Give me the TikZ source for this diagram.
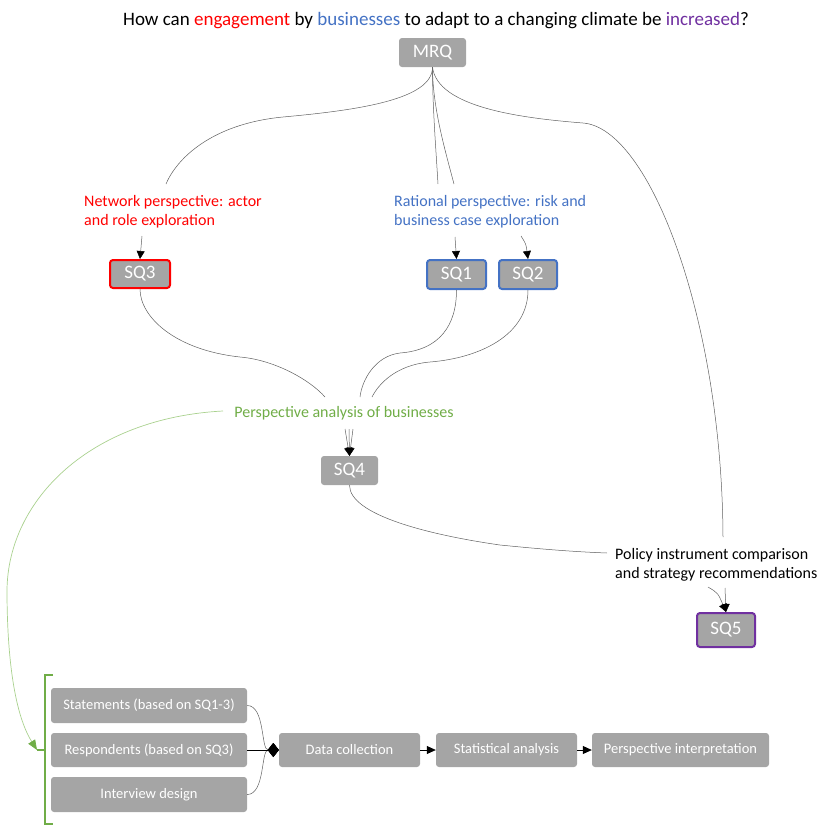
\documentclass[tikz,border=0pt]{standalone}
\usepackage{fontspec}
\setmainfont{Carlito}
\usetikzlibrary{arrows.meta,calc}

\definecolor{boxgray}{HTML}{A5A5A5}
\definecolor{engred}{HTML}{FF0000}
\definecolor{busblue}{HTML}{4472C4}
\definecolor{incpurple}{HTML}{7030A0}
\definecolor{persgreen}{HTML}{70AD47}
\definecolor{lightgreen}{HTML}{A9D18E}
\definecolor{linegray}{HTML}{606060}

\tikzset{
  qbox/.style={rectangle, rounded corners=3pt, fill=boxgray, text=white,
    inner sep=0pt, font=\fontsize{19}{22}\selectfont},
  stepbox/.style={qbox, font=\fontsize{14.5}{17}\selectfont},
  lab/.style={inner sep=0pt, align=left, anchor=north west,
    font=\fontsize{16}{19}\selectfont},
  conn/.style={draw=linegray, line width=0.5pt},
  arr/.style={conn, -{Triangle[length=8pt,width=8pt,black]}},
  mergeline/.style={conn, -{Diamond[length=11pt,width=14pt,black]}},
  flow/.style={draw=black, line width=0.8pt, -{Triangle[length=9pt,width=8pt,black]}},
  brace/.style={draw=persgreen, line width=1.5pt},
}

\begin{document}
\begin{tikzpicture}[x=1pt,y=-1pt]
\useasboundingbox (0,0) rectangle (817,825);

% main research question
\node[anchor=base, font=\fontsize{19}{22}\selectfont] (title) at (436,25)
  {How can \textcolor{engred}{engagement} by \textcolor{busblue}{businesses} to adapt to a changing climate be \textcolor{incpurple}{increased}?};
\node[qbox, minimum width=67pt, minimum height=29pt] (mrq) at (432.5,52.5) {MRQ};

% perspectives
\node[lab, text=engred] (net) at (84,195) {Network perspective: actor\\and role exploration};
\node[lab, text=busblue] (rat) at (394,195) {Rational perspective: risk and\\business case exploration};
\node[lab, text=black] (pol) at (615,548) {Policy instrument comparison\\and strategy recommendations};
\node[inner sep=0pt, anchor=base, text=persgreen, font=\fontsize{16}{19}\selectfont] (pers) at (344,417)
  {Perspective analysis of businesses};

% sub-questions
\node[qbox, draw=engred, line width=2pt, minimum width=60pt, minimum height=28pt] (sq3) at (140,274) {SQ3};
\node[qbox, draw=busblue, line width=2pt, minimum width=59pt, minimum height=29pt] (sq1) at (456.5,274.5) {SQ1};
\node[qbox, draw=busblue, line width=2pt, minimum width=58pt, minimum height=29pt] (sq2) at (528,274.5) {SQ2};
\node[qbox, minimum width=57pt, minimum height=29pt] (sq4) at (349.5,470.5) {SQ4};
\node[qbox, draw=incpurple, line width=2pt, minimum width=58pt, minimum height=34pt] (sq5) at (726,630) {SQ5};

% method steps
\node[stepbox, minimum width=196pt, minimum height=35pt] (stm) at (149,705.5) {Statements (based on SQ1-3)};
\node[stepbox, minimum width=196pt, minimum height=34pt] (resp) at (149,750) {Respondents (based on SQ3)};
\node[stepbox, minimum width=196pt, minimum height=35pt] (intv) at (149,794.5) {Interview design};
\node[stepbox, minimum width=141pt, minimum height=34pt] (dc) at (349.5,750) {Data collection};
\node[stepbox, minimum width=141pt, minimum height=34pt] (sa) at (506.5,750) {Statistical analysis};
\node[stepbox, minimum width=177pt, minimum height=34pt] (pi) at (680.5,750) {Perspective interpretation};

% MRQ to the perspectives
\draw[conn] (mrq.south) .. controls +(0,32) and (360,110) .. (283,117)
  .. controls (210,124) and (176,160) .. ($(net.north west)+(82,-11)$);
\draw[conn] (mrq.south) .. controls +(0,40) and (436,150) .. ($(rat.north west)+(44,-11)$);
\draw[conn] (mrq.south) .. controls +(0,40) and (445,150) .. ($(rat.north west)+(60,-11)$);
\draw[conn] (mrq.south) .. controls +(5,40) and (520,118) .. (583,123)
  .. controls (650,128) and (722,320) .. ($(pol.north west)+(108,-11)$);

% perspectives to sub-questions
\draw[arr] ($(net.north west)+(58,41)$) -- (sq3.north);
\draw[arr] ($(rat.north west)+(61,42)$) -- (sq1.north);
\draw[arr] ($(rat.north west)+(127,41)$) .. controls +(5,8) .. (sq2.north);

% sub-questions to the perspective analysis
\draw[conn] (sq3.south) .. controls +(0,28) and (175,350) .. (240,357)
  .. controls (275,360) and (310,380) .. ($(pers.base)+(-19,-20)$);
\draw[conn] (sq1.south) .. controls +(0,35) and (440,350) .. (400,353)
  .. controls (375,356) and (362,380) .. ($(pers.base)+(16,-20)$);
\draw[conn] (sq2.south) .. controls +(0,45) and (480,358) .. (430,362)
  .. controls (395,365) and (378,385) .. ($(pers.base)+(28,-20)$);
\draw[arr] ($(pers.base)+(1,12)$) -- (sq4.north);
\draw[arr] ($(pers.base)+(9,12)$) -- (sq4.north);
\draw[arr] ($(pers.base)+(5,12)$) -- (sq4.north);

% towards policy recommendations
\draw[conn] (sq4.south) .. controls +(0,30) and (430,535) .. (500,545)
  .. controls (550,550) and (580,552) .. ($(pol.north west)+(-8,5)$);
\draw[arr] ($(pol.north west)+(110,40)$) -- (sq5.north);
\draw[arr] ($(pol.north west)+(93,39)$) .. controls +(10,6) .. (sq5.north);

% method bracket and link from the perspective analysis
\draw[brace] (53,675) -- (45,675) -- (45,824) -- (53,824);
\draw[brace] (45,750) -- (37,750);
\coordinate (brace-tip) at (37,750);
\draw[draw=lightgreen, line width=0.7pt, -{Triangle[length=10pt,width=8pt,persgreen]}]
  ($(pers.base)+(-121,-6)$) .. controls (90,418) and (8,500) .. (7,590)
  .. controls (7,660) and (15,715) .. (brace-tip);

% method flow
\draw[mergeline] (stm.east) .. controls +(18,0) and +(-18,0) .. (dc.west);
\draw[mergeline] (intv.east) .. controls +(18,0) and +(-18,0) .. (dc.west);
\draw[mergeline, draw=black, line width=1pt] (resp.east) -- (dc.west);
\draw[flow] (dc.east) -- (sa.west);
\draw[flow] (sa.east) -- (pi.west);
\end{tikzpicture}
\end{document}
